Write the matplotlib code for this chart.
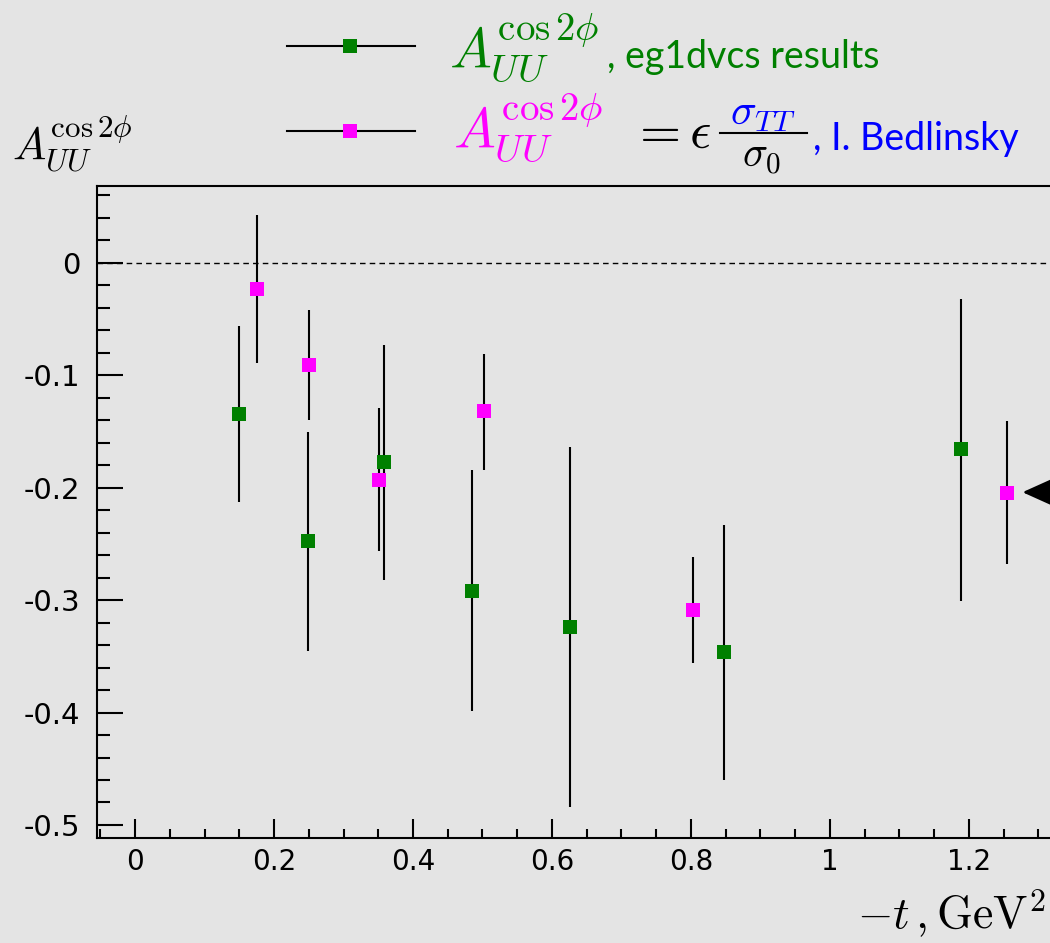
import matplotlib
matplotlib.use('Agg')
import matplotlib.pyplot as plt
from matplotlib.lines import Line2D
from matplotlib.ticker import MultipleLocator, FuncFormatter
import numpy as np

plt.rcParams['mathtext.fontset'] = 'cm'
plt.rcParams['axes.unicode_minus'] = False
plt.rcParams['font.family'] = ['DejaVu Sans']

# eg1dvcs results (green)
t_eg1 = [0.150, 0.249, 0.358, 0.485, 0.626, 0.847, 1.188]
a_eg1 = [-0.134, -0.247, -0.177, -0.292, -0.324, -0.346, -0.166]
a_eg1_hi = [-0.056, -0.150, -0.073, -0.184, -0.164, -0.233, -0.032]
a_eg1_lo = [-0.213, -0.345, -0.282, -0.399, -0.484, -0.460, -0.301]

# I. Bedlinsky (magenta)
t_bed = [0.176, 0.251, 0.351, 0.502, 0.803, 1.255]
a_bed = [-0.023, -0.091, -0.193, -0.132, -0.309, -0.205]
a_bed_hi = [0.043, -0.042, -0.129, -0.081, -0.262, -0.141]
a_bed_lo = [-0.089, -0.140, -0.256, -0.184, -0.356, -0.268]

x_ticks = [0, 0.2, 0.4, 0.6, 0.8, 1, 1.2]
y_ticks = [0, -0.1, -0.2, -0.3, -0.4, -0.5]

bg = '#e4e4e4'
green = '#008000'
magenta = '#ff00ff'

W, H = 1050, 943
fig = plt.figure(figsize=(W / 100, H / 100), dpi=100)
fig.patch.set_facecolor(bg)


def px(x, y):
    # pixel position (from top-left) -> figure fraction
    return x / W, 1 - y / H


ax = fig.add_axes([97 / W, 1 - 838 / H, 1 - 97 / W, (838 - 186) / H])
ax.set_facecolor(bg)


def err(vals, lo, hi):
    v = np.array(vals)
    return [v - np.array(lo), np.array(hi) - v]


ax.errorbar(t_eg1, a_eg1, yerr=err(a_eg1, a_eg1_lo, a_eg1_hi), fmt='s',
            color=green, ms=10, mew=0, ecolor='black', elinewidth=1.5,
            capsize=3.5, capthick=1.5, zorder=3)
ax.errorbar(t_bed, a_bed, yerr=err(a_bed, a_bed_lo, a_bed_hi), fmt='s',
            color=magenta, ms=10, mew=0, ecolor='black', elinewidth=1.5,
            capsize=3.5, capthick=1.5, zorder=3)

ax.axhline(0, color='black', lw=1, ls=(0, (4, 3)), zorder=1)

ax.set_xlim(-0.0547, 1.3166)
ax.set_ylim(-0.5116, 0.0684)

ax.set_xticks(x_ticks)
ax.set_yticks(y_ticks)
ax.xaxis.set_minor_locator(MultipleLocator(0.05))
ax.yaxis.set_minor_locator(MultipleLocator(0.02))
fmt = FuncFormatter(lambda v, p: '%g' % round(v, 3) if abs(v) > 1e-9 else '0')
ax.xaxis.set_major_formatter(fmt)
ax.yaxis.set_major_formatter(fmt)

ax.tick_params(axis='both', which='both', direction='in', width=1.5,
               top=False, right=False)
ax.tick_params(axis='y', which='major', length=19, pad=12, labelsize=21)
ax.tick_params(axis='y', which='minor', length=9.5)
ax.tick_params(axis='x', which='major', length=14, pad=7, labelsize=20)
ax.tick_params(axis='x', which='minor', length=6.5)

for s in ['left', 'bottom', 'top']:
    ax.spines[s].set_linewidth(1.5)
ax.spines['right'].set_visible(False)

# arrow pointing at the last magenta point (comes in from the right)
ax.annotate('', xy=(1.273, -0.204), xytext=(1.45, -0.204),
            arrowprops=dict(arrowstyle='-|>,head_length=2.0,head_width=0.9',
                            mutation_scale=12, color='black', lw=2),
            annotation_clip=False)

# axis titles
fig.text(*px(12, 160), r'$A_{UU}^{\cos 2\phi}$', fontsize=32, va='baseline')
fig.text(*px(1046, 929), r'$-t\,,\mathrm{GeV}^2$', fontsize=33,
         ha='right', va='baseline')

# legend samples
for yy, col in [(46, green), (131, magenta)]:
    x0, y0 = px(287, yy)
    x1, _ = px(415, yy)
    xm, _ = px(350, yy)
    fig.add_artist(Line2D([x0, x1], [y0, y0], color='black', lw=1.5,
                          transform=fig.transFigure))
    fig.add_artist(Line2D([xm], [y0], marker='s', ms=10, mew=0, color=col,
                          transform=fig.transFigure))

# legend texts
fig.text(*px(449, 68), r'$A_{UU}^{\cos 2\phi}$', fontsize=40, color=green,
         va='baseline')
fig.text(*px(607, 68), ', eg1dvcs results', fontsize=27, color=green,
         family='Lato', va='baseline')

fig.text(*px(453, 148), r'$A_{UU}^{\cos 2\phi}$', fontsize=40, color=magenta,
         va='baseline')
fig.text(*px(630, 148), r'$=\epsilon$', fontsize=38, color='black',
         va='baseline')
fig.text(*px(763, 125), r'$\sigma_{TT}$', fontsize=31, color='blue',
         ha='center', va='baseline')
bx0, by = px(720, 133)
bx1, _ = px(807, 133)
fig.add_artist(Line2D([bx0, bx1], [by, by], color='black', lw=1.5,
                      transform=fig.transFigure))
fig.text(*px(762, 167), r'$\sigma_0$', fontsize=30, color='black',
         ha='center', va='baseline')
fig.text(*px(813, 150), ', I. Bedlinsky', fontsize=27, color='blue',
         family='Lato', va='baseline')

fig.savefig('out.png', dpi=100, facecolor=bg)
